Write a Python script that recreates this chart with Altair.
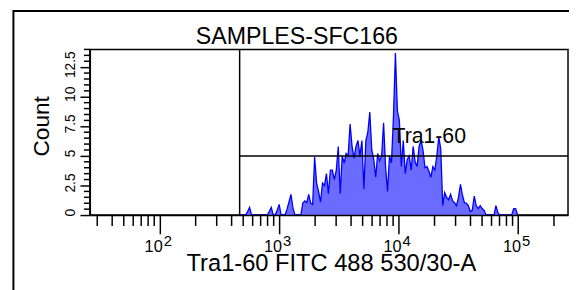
import altair as alt
import pandas as pd

# ---------------- data ----------------
title_text = "SAMPLES-SFC166"
x_title = "Tra1-60 FITC 488 530/30-A"
y_title = "Count"
gate_label = "Tra1-60"

x_domain = [26, 262144]
y_domain = [0, 14]

y_major = [0, 2.5, 5, 7.5, 10, 12.5]
y_minor = [0.5, 1, 1.5, 2, 3, 3.5, 4, 4.5, 5.5, 6, 6.5, 7, 8, 8.5, 9, 9.5,
           10.5, 11, 11.5, 12, 13, 13.5, 14]
x_major = [100, 1000, 10000, 100000]
x_exponents = ["2", "3", "4", "5"]
x_minor = [30, 40, 50, 60, 70, 80, 90,
           200, 300, 400, 500, 600, 700, 800, 900,
           2000, 3000, 4000, 5000, 6000, 7000, 8000, 9000,
           20000, 30000, 40000, 50000, 60000, 70000, 80000, 90000,
           200000]

gate_x = 467
gate_y = 5

# histogram: channel centres on a log grid, counts per channel
hist_first_log = 2.670
hist_step_log = 0.0165
hist_counts = [
    0, 0, 0, 0, 0.3, 0.65, 0, 0, 0, 0, 0, 0, 0, 0, 0,
    0.3, 0.65, 0, 0, 0.4, 0.9, 0, 0, 0, 0.5, 1.1, 1.75, 0.6, 0, 0,
    0, 0, 1.0, 1.2, 1.05, 1.75, 1.0, 0.9, 4.9, 2.7, 2.0, 1.1, 2.7, 2.5, 3.5,
    1.8, 3.8, 3.8, 3.0, 3.8, 5.8, 1.8, 5.0, 4.4, 5.2, 5.0, 7.7, 5.8, 4.8, 5.8,
    6.3, 5.0, 6.3, 2.2, 6.3, 7.0, 8.7, 5.5, 4.7, 3.2, 5.2, 4.6, 5.0, 7.8, 4.1,
    2.0, 5.0, 4.4, 8.3, 13.7, 8.8, 8.0, 4.1, 6.3, 3.5, 4.7, 5.0, 3.8, 5.8, 4.5,
    4.1, 5.8, 6.3, 5.5, 4.0, 4.1, 3.7, 3.2, 4.1, 3.8, 5.0, 6.6, 5.6, 0.8, 1.9,
    1.5, 1.3, 1.75, 1.2, 1.05, 0.8, 1.5, 2.6, 1.7, 1.05, 1.0, 0.8, 0.3, 0.4, 1.6,
    0.8, 0.55, 0.8, 0.55, 0.4, 0, 0, 0, 0, 0, 0.8, 0.2, 0, 0, 0,
    0, 0, 0, 0, 0.55, 0.55, 0,
]

hist = pd.DataFrame({
    "x": [10 ** (hist_first_log + i * hist_step_log) for i in range(len(hist_counts))],
    "count": hist_counts,
})

FONT = "Liberation Sans"
W, H = 485, 168

xs = alt.Scale(type="log", domain=x_domain, nice=False)
ys = alt.Scale(domain=y_domain, nice=False, zero=True)

x_axis = alt.Axis(values=x_major, tickSize=19, tickWidth=1.5, tickColor="black",
                  domainColor="black", domainWidth=1.5, labels=False, title=None,
                  grid=False, zindex=1)
y_axis = alt.Axis(values=y_major, tickSize=10, tickWidth=1.5, tickColor="black",
                  domainColor="black", domainWidth=1.5, labelAngle=270,
                  labelAlign="center", labelBaseline="alphabetic", labelPadding=6,
                  labelFontSize=14, labelColor="black", labelFont=FONT,
                  labelOverlap=False, labelOffset=-3,
                  labelExpr="datum.value + ''", title=None,
                  grid=False, zindex=1)


def X(field):
    return alt.X(field, scale=xs, axis=x_axis)


def Y(field):
    return alt.Y(field, scale=ys, axis=y_axis)


area = alt.Chart(hist).mark_area(color="#6b6bff", interpolate="linear").encode(
    x=X("x:Q"), y=Y("count:Q"))
line = alt.Chart(hist).mark_line(color="#0000ff", strokeWidth=1.3, interpolate="linear").encode(
    x=X("x:Q"), y=Y("count:Q"))

ymin_rules = alt.Chart(pd.DataFrame({"v": y_minor})).mark_rule(color="black", strokeWidth=1.5).encode(
    y=Y("v:Q"), x=alt.value(-6), x2=alt.value(0))
xmin_rules = alt.Chart(pd.DataFrame({"v": x_minor})).mark_rule(color="black", strokeWidth=1.5).encode(
    x=X("v:Q"), y=alt.value(H), y2=alt.value(H + 11))

gate_v = alt.Chart(pd.DataFrame({"x": [gate_x]})).mark_rule(color="black", strokeWidth=1.5).encode(
    x=X("x:Q"), y=alt.value(0), y2=alt.value(H))
gate_h = alt.Chart(pd.DataFrame({"x": [gate_x], "x2": [x_domain[1]], "y": [gate_y]})).mark_rule(
    color="black", strokeWidth=1.5).encode(
    x=X("x:Q"), x2="x2:Q", y=Y("y:Q"))
gate_text = alt.Chart(pd.DataFrame({"t": [gate_label]})).mark_text(
    font=FONT, fontSize=21.5, align="left", baseline="alphabetic", color="black").encode(
    text="t:N", x=alt.value(307), y=alt.value(95))

dec = pd.DataFrame({"v": x_major, "e": x_exponents, "b": ["10"] * len(x_major)})
dec_base = alt.Chart(dec).mark_text(font=FONT, fontSize=16.5, align="right", baseline="alphabetic",
                                    dx=3, color="black").encode(
    x=X("v:Q"), y=alt.value(H + 37), text="b:N")
dec_exp = alt.Chart(dec).mark_text(font=FONT, fontSize=15, align="left", baseline="alphabetic",
                                   dx=4, color="black").encode(
    x=X("v:Q"), y=alt.value(H + 31), text="e:N")

title = alt.Chart(pd.DataFrame({"t": [title_text]})).mark_text(
    font=FONT, fontSize=23.5, align="center", baseline="alphabetic", color="black").encode(
    text="t:N", x=alt.value(210), y=alt.value(-5))
xtitle = alt.Chart(pd.DataFrame({"t": [x_title]})).mark_text(
    font=FONT, fontSize=24, align="center", baseline="alphabetic", color="black").encode(
    text="t:N", x=alt.value(245), y=alt.value(225))
ytitle = alt.Chart(pd.DataFrame({"t": [y_title]})).mark_text(
    font=FONT, fontSize=23, align="center", baseline="alphabetic", angle=270, color="black").encode(
    text="t:N", x=alt.value(-41), y=alt.value(78))

# outer panel frame (only its top and left edges fall inside the page)
frame = alt.Chart(pd.DataFrame({"a": [0]})).mark_rect(
    fill="transparent", stroke="black", strokeWidth=2).encode(
    x=alt.value(-77.5), x2=alt.value(W + 60), y=alt.value(-39), y2=alt.value(H + 120))

chart = alt.layer(
    area, line, ymin_rules, xmin_rules, gate_v, gate_h, gate_text,
    dec_base, dec_exp, title, xtitle, ytitle, frame,
).properties(
    width=W, height=H,
    autosize=alt.AutoSizeParams(type="none"),
    padding={"left": 83, "top": 40, "right": 1, "bottom": 74},
    background="white",
).configure(font=FONT).configure_view(stroke="black", strokeWidth=1.5)

chart.save("out.html", embed_options={"renderer": "svg", "actions": False})
